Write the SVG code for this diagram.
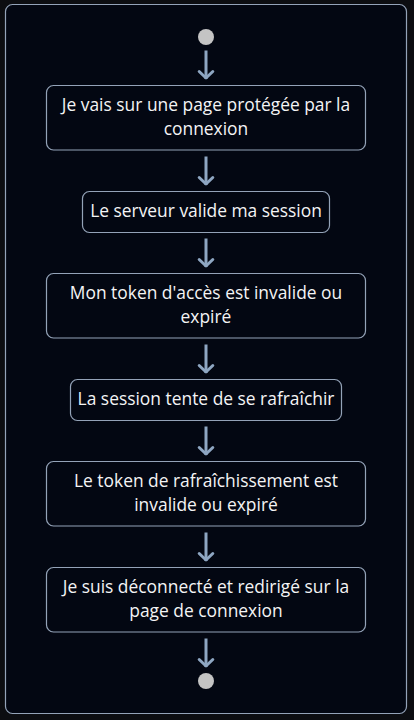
<svg xmlns="http://www.w3.org/2000/svg" width="414" height="720" viewBox="0 0 414 720">
<defs>
<style>
.bg{fill:#0c0d11}
.frame{fill:#030712;stroke:#94a3b8;stroke-width:1.2}
.box{fill:#030712;stroke:#94a3b8;stroke-width:1.2}
.dot{fill:#c4c4c4}
.txt{font-family:"Open Sans","Noto Sans",sans-serif;font-size:17.4px;fill:#f4f4f5;text-anchor:middle}
.edge{stroke:#8ea6c2;stroke-width:3;fill:none}
</style>
<marker id="ah" markerUnits="userSpaceOnUse" viewBox="-10 -10 12 20" refX="0" refY="0" markerWidth="12" markerHeight="20" orient="auto">
<path d="M-7.5,-6.8 L-1,0 L-7.5,6.8" fill="none" stroke="#8ea6c2" stroke-width="3" stroke-linejoin="round" stroke-linecap="round"/>
</marker>
</defs>
<rect class="bg" x="0" y="0" width="414" height="720"/>
<rect class="frame" x="5.5" y="4.5" width="401" height="709" rx="7"/>
<g id="connectors">
<line class="edge" x1="206" y1="50.5" x2="206" y2="79" marker-end="url(#ah)"/>
<line class="edge" x1="206" y1="156.5" x2="206" y2="185" marker-end="url(#ah)"/>
<line class="edge" x1="206" y1="238.5" x2="206" y2="267" marker-end="url(#ah)"/>
<line class="edge" x1="206" y1="344.5" x2="206" y2="373" marker-end="url(#ah)"/>
<line class="edge" x1="206" y1="426.5" x2="206" y2="455" marker-end="url(#ah)"/>
<line class="edge" x1="206" y1="532.5" x2="206" y2="561" marker-end="url(#ah)"/>
<line class="edge" x1="206" y1="638.5" x2="206" y2="667" marker-end="url(#ah)"/>
</g>
<g id="start"><circle class="dot" cx="206" cy="37" r="8"/></g>
<g id="n1">
<rect class="box" x="46.5" y="85.5" width="319" height="64.5" rx="7"/>
<text class="txt" x="206" y="111.3">Je vais sur une page protégée par la</text>
<text class="txt" x="206" y="135">connexion</text>
</g>
<g id="n2">
<rect class="box" x="82.5" y="191.5" width="247" height="41" rx="7"/>
<text class="txt" x="206" y="217.3">Le serveur valide ma session</text>
</g>
<g id="n3">
<rect class="box" x="46.5" y="273.5" width="319" height="64.5" rx="7"/>
<text class="txt" x="206" y="299.3">Mon token d'accès est invalide ou</text>
<text class="txt" x="206" y="323">expiré</text>
</g>
<g id="n4">
<rect class="box" x="70.5" y="379.5" width="271" height="41" rx="7"/>
<text class="txt" x="206" y="405.3">La session tente de se rafraîchir</text>
</g>
<g id="n5">
<rect class="box" x="46.5" y="461.5" width="319" height="64.5" rx="7"/>
<text class="txt" x="206" y="487.3">Le token de rafraîchissement est</text>
<text class="txt" x="206" y="511">invalide ou expiré</text>
</g>
<g id="n6">
<rect class="box" x="46.5" y="567.5" width="319" height="64.5" rx="7"/>
<text class="txt" x="206" y="593.3">Je suis déconnecté et redirigé sur la</text>
<text class="txt" x="206" y="617">page de connexion</text>
</g>
<g id="end"><circle class="dot" cx="206" cy="681" r="8"/></g>
</svg>
